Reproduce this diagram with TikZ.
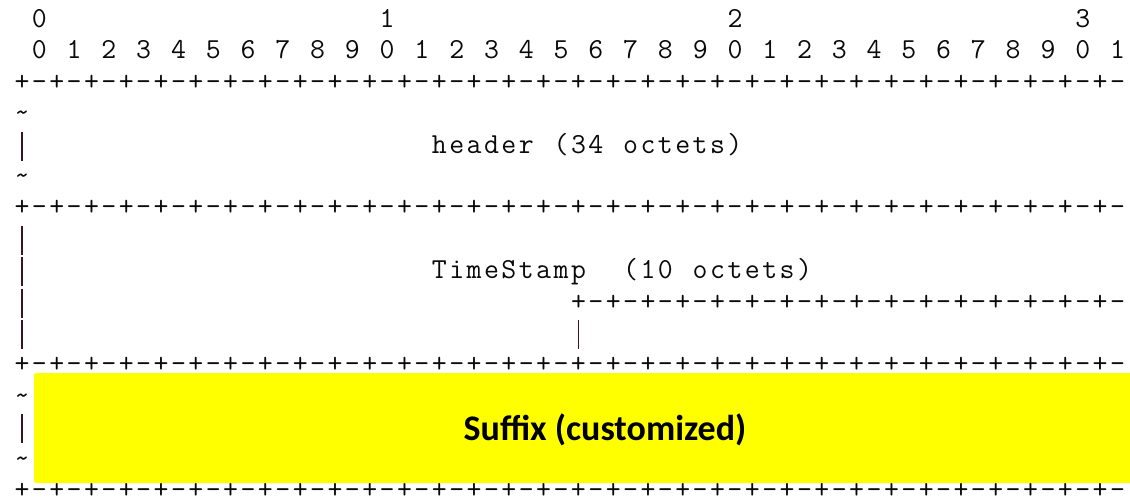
\documentclass[tikz,border=0pt]{standalone}
\usepackage{fontspec}
\newfontfamily\calib{Carlito}
\newlength\cw \setlength\cw{17.39pt}
\def\gtend{\gtend}
\def\gt#1{\gtloop#1\gtend}
\def\gtloop#1{\ifx#1\gtend\else\makebox[\cw][c]{\ifx#1_\relax\else#1\fi}\expandafter\gtloop\fi}
\definecolor{barc}{RGB}{60,20,30}
\definecolor{ink}{RGB}{10,10,10}
\definecolor{hl}{RGB}{255,255,0}
\tikzset{
  asc/.style={anchor=base west, inner sep=0pt, outer sep=0pt, text=ink,
    font=\ttfamily\fontsize{29}{31}\selectfont},
  vbar/.style={line width=1.6pt, draw=barc},
  hlbox/.style={fill=hl, rounded corners=2pt},
  title/.style={anchor=base, inner sep=0pt, text=black,
    font=\calib\bfseries\fontsize{36}{40}\selectfont}
}
\begin{document}
\begin{tikzpicture}[x=1pt,y=-1pt]
\useasboundingbox (0,0) rectangle (1130,497);
% bit numbers
\node[asc] (d0)  at (30.7,27.5)   {\gt{0}};
\node[asc] (d1)  at (378.5,27.5)  {\gt{1}};
\node[asc] (d2)  at (726.3,27.5)  {\gt{2}};
\node[asc] (d3)  at (1074.1,27.5) {\gt{3}};
\node[asc] (bits) at (30.7,58.9) {\gt{0_1_2_3_4_5_6_7_8_9_0_1_2_3_4_5_6_7_8_9_0_1_2_3_4_5_6_7_8_9_0_1}};
% separator rows
\node[asc] (r3)  at (13.3,90.3)  {\gt{+-+-+-+-+-+-+-+-+-+-+-+-+-+-+-+-+-+-+-+-+-+-+-+-+-+-+-+-+-+-+-+-}};
\node[asc] (r7)  at (13.3,215.9) {\gt{+-+-+-+-+-+-+-+-+-+-+-+-+-+-+-+-+-+-+-+-+-+-+-+-+-+-+-+-+-+-+-+-}};
\node[asc] (r10) at (569.8,310.1) {\gt{+-+-+-+-+-+-+-+-+-+-+-+-+-+-+-+-}};
\node[asc] (r12) at (13.3,372.9) {\gt{+-+-+-+-+-+-+-+-+-+-+-+-+-+-+-+-+-+-+-+-+-+-+-+-+-+-+-+-+-+-+-+-}};
\node[asc] (r16) at (13.3,498.5) {\gt{+-+-+-+-+-+-+-+-+-+-+-+-+-+-+-+-+-+-+-+-+-+-+-+-+-+-+-+-+-+-+-+-}};
% tildes
\node[asc] (t4)  at (13.3,121.7) {\gt{\textasciitilde}};
\node[asc] (t6)  at (13.3,184.5) {\gt{\textasciitilde}};
\node[asc] (t13) at (13.3,404.3) {\gt{\textasciitilde}};
\node[asc] (t15) at (13.3,467.1) {\gt{\textasciitilde}};
% field labels
\node[asc] (hdr1) at (430.7,153.1) {\gt{header}};
\node[asc] (hdr2) at (552.4,153.1) {\gt{(34}};
\node[asc] (hdr3) at (621.9,153.1) {\gt{octets)}};
\node[asc] (ts1) at (430.7,278.7) {\gt{TimeStamp}};
\node[asc] (ts2) at (621.9,278.7) {\gt{(10}};
\node[asc] (ts3) at (691.5,278.7) {\gt{octets)}};
% vertical bars
\draw[vbar] (22,131.6) -- (22,160.6);
\draw[vbar] (22,225.8) -- (22,254.8);
\draw[vbar] (22,257.2) -- (22,286.2);
\draw[vbar] (22,288.6) -- (22,317.6);
\draw[vbar] (22,320.0) -- (22,349.0);
\draw[vbar] (578.5,320.0) -- (578.5,349.0);
\draw[vbar] (22,414.2) -- (22,443.2);
% highlighted suffix
\fill[hlbox] (34,373) rectangle (1130,483);
\fill[hl] (1120,373) rectangle (1130,483);
\node[title] (suffix) at (605,440) {Suffix (customized)};
\end{tikzpicture}
\end{document}
